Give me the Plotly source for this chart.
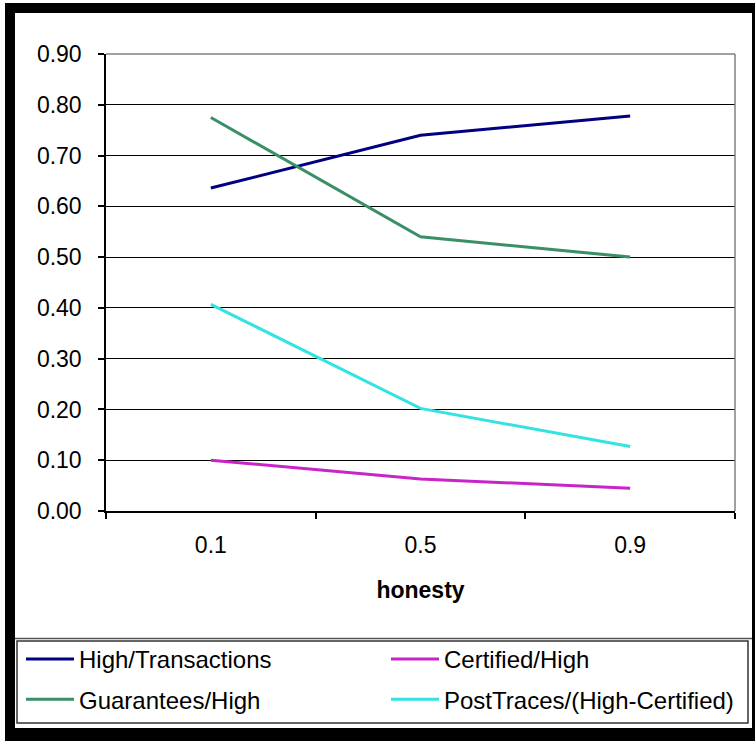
import plotly.graph_objects as go

# honesty levels on the category axis
honesty = ["0.1", "0.5", "0.9"]

# ratio series
high_transactions = [0.636, 0.740, 0.778]
guarantees_high = [0.775, 0.540, 0.500]
certified_high = [0.100, 0.063, 0.045]
posttraces_high_certified = [0.407, 0.202, 0.127]

y_ticks = [0.0, 0.1, 0.2, 0.3, 0.4, 0.5, 0.6, 0.7, 0.8, 0.9]

W, H = 755, 741
L, R, T, B = 106, 20, 54, 230
PW, PH = W - L - R, H - T - B


def px_x(px):
    return (px - L) / PW


def px_y(py):
    return (H - B - py) / PH


FONT = "Liberation Sans, Arial, sans-serif"

# (name, values, colour, legend column)
series = [
    ("High/Transactions", high_transactions, "#000080", "legend"),
    ("Guarantees/High", guarantees_high, "#3A8F66", "legend"),
    ("Certified/High", certified_high, "#C824C8", "legend2"),
    ("PostTraces/(High-Certified)", posttraces_high_certified, "#33E3E3", "legend2"),
]

fig = go.Figure()
for name, vals, color, leg in series:
    fig.add_trace(go.Scatter(
        x=honesty, y=vals, name=name, mode="lines",
        line=dict(color=color, width=3),
        legend=leg, legendgroup=name,
    ))

shapes = []
# outer black frame
for x0, y0, x1, y1 in [(5, 3, 15, 741), (5, 3, 755, 13), (752, 3, 755, 741), (5, 728, 755, 741)]:
    shapes.append(dict(type="rect", xref="paper", yref="paper",
                       x0=px_x(x0), x1=px_x(x1), y0=px_y(y0), y1=px_y(y1),
                       fillcolor="black", line=dict(width=0), layer="above"))
# divider between chart area and legend
shapes.append(dict(type="line", xref="paper", yref="paper",
                   x0=px_x(15), x1=px_x(752), y0=px_y(638.5), y1=px_y(638.5),
                   line=dict(color="#555555", width=1.5)))
# legend box
shapes.append(dict(type="rect", xref="paper", yref="paper",
                   x0=px_x(17), x1=px_x(748), y0=px_y(641), y1=px_y(723),
                   line=dict(color="#333333", width=1.5), fillcolor="rgba(0,0,0,0)"))
# plot area top and right edges
shapes.append(dict(type="line", xref="paper", yref="paper",
                   x0=0, x1=1, y0=1, y1=1, line=dict(color="#808080", width=1.5), layer="above"))
shapes.append(dict(type="line", xref="paper", yref="paper",
                   x0=1, x1=1, y0=0, y1=1, line=dict(color="#808080", width=1.5), layer="above"))

legend_common = dict(
    orientation="v", xanchor="left", yanchor="top",
    font=dict(family=FONT, size=24, color="black"),
    borderwidth=0, bgcolor="rgba(0,0,0,0)",
    itemwidth=48, tracegroupgap=6, traceorder="grouped",
)

fig.update_layout(
    width=W, height=H,
    margin=dict(l=L, r=R, t=T, b=B, autoexpand=False),
    paper_bgcolor="white", plot_bgcolor="white",
    font=dict(family=FONT, color="black", size=23),
    shapes=shapes,
    showlegend=True,
    legend=dict(x=px_x(21), y=px_y(637), **legend_common),
    legend2=dict(x=px_x(386), y=px_y(637), **legend_common),
    xaxis=dict(
        type="category", range=[-0.5, 2.5], tickson="boundaries",
        ticks="outside", ticklen=6, tickcolor="black", tickwidth=1.5,
        showline=True, linecolor="black", linewidth=1.5,
        showgrid=False, ticklabelstandoff=13,
        tickfont=dict(family=FONT, size=23),
        title=dict(text="<b>honesty</b>", font=dict(family=FONT, size=23), standoff=25),
    ),
    yaxis=dict(
        range=[0, 0.9], tickvals=y_ticks, tickformat=".2f",
        ticks="outside", ticklen=6, tickcolor="black", tickwidth=1.5,
        showline=True, linecolor="black", linewidth=1.5,
        showgrid=True, gridcolor="black", gridwidth=1.2,
        zeroline=False, ticklabelstandoff=12,
        tickfont=dict(family=FONT, size=23),
    ),
)

fig.write_html("out.html")
